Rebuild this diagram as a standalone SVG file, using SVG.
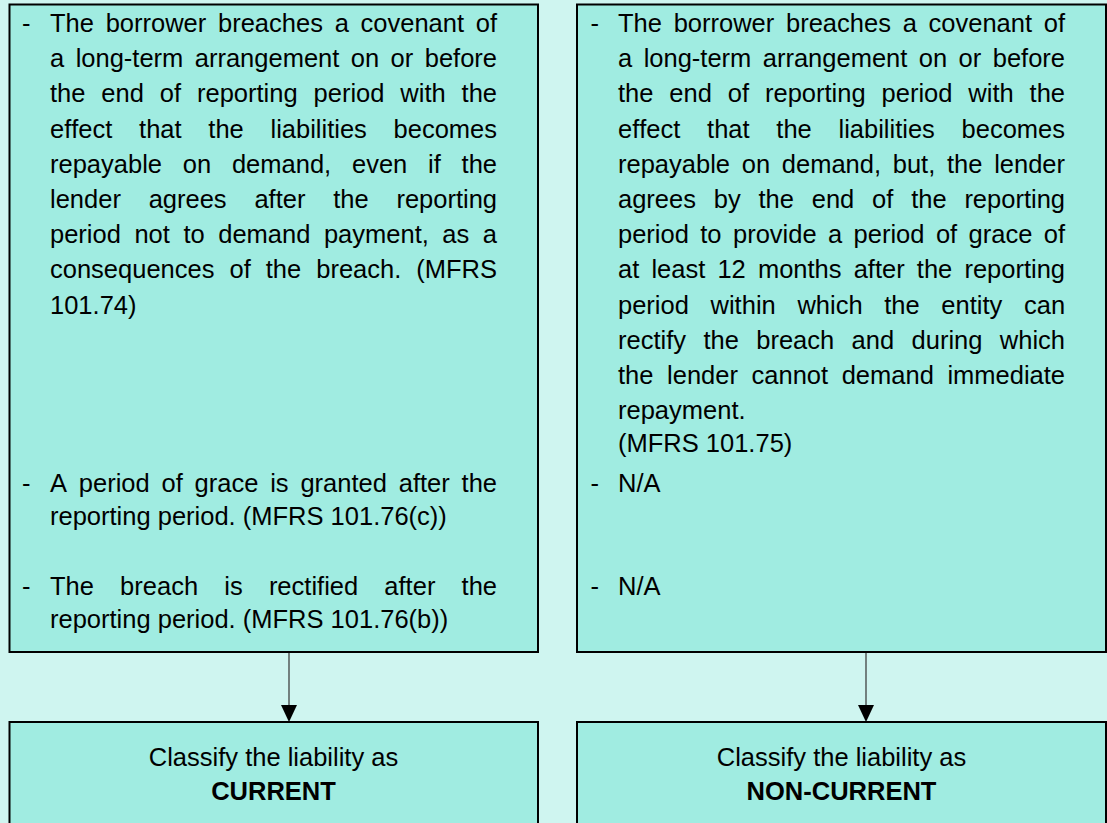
<svg xmlns="http://www.w3.org/2000/svg" width="1107" height="823" viewBox="0 0 1107 823">
<style>
.bg{fill:#cff5f0}
.box{fill:#a0ece1;stroke:#000;stroke-width:2}
text{font-family:"Liberation Sans",Arial,sans-serif;font-size:25.5px;fill:#000;font-kerning:none}
.c{text-anchor:middle}
.b{font-weight:bold}
.conn{stroke:#333;stroke-width:1.2;fill:none}
</style>
<defs>
<marker id="ah" markerWidth="16" markerHeight="17" refX="8" refY="17" orient="auto" markerUnits="userSpaceOnUse" viewBox="0 0 16 17">
<path d="M0,0 L16,0 L8,17 Z" fill="#000"/>
</marker>
</defs>
<rect class="bg" x="0" y="0" width="1107" height="823"/>

<g id="connectors">
<line class="conn" x1="289" y1="652" x2="289" y2="705"/>
<path d="M281,705 L297,705 L289,722 Z" fill="#000"/>
<line class="conn" x1="866" y1="652" x2="866" y2="705"/>
<path d="M858,705 L874,705 L866,722 Z" fill="#000"/>
</g>

<g id="left-conditions">
<rect class="box" x="9.5" y="4.5" width="528.5" height="647.5"/>
<text x="22" y="32">-</text>
<text x="50" y="32" word-spacing="4.64">The borrower breaches a covenant of</text>
<text x="50" y="67.2" word-spacing="4.36">a long-term arrangement on or before</text>
<text x="50" y="102.4" word-spacing="8.82">the end of reporting period with the</text>
<text x="50" y="137.6" word-spacing="19.62">effect that the liabilities becomes</text>
<text x="50" y="172.8" word-spacing="13.70">repayable on demand, even if the</text>
<text x="50" y="208" word-spacing="20.68">lender agrees after the reporting</text>
<text x="50" y="243.2" word-spacing="6.46">period not to demand payment, as a</text>
<text x="50" y="278.4" word-spacing="7.93">consequences of the breach. (MFRS</text>
<text x="50" y="313.6">101.74)</text>
<text x="22" y="491.5">-</text>
<text x="50" y="491.5" word-spacing="4.73">A period of grace is granted after the</text>
<text x="50" y="524.5">reporting period. (MFRS 101.76(c))</text>
<text x="22" y="595">-</text>
<text x="50" y="595" word-spacing="19.10">The breach is rectified after the</text>
<text x="50" y="628">reporting period. (MFRS 101.76(b))</text>
</g>

<g id="right-conditions">
<rect class="box" x="577" y="4.5" width="529" height="647.5"/>
<text x="590.5" y="32">-</text>
<text x="618" y="32" word-spacing="4.64">The borrower breaches a covenant of</text>
<text x="618" y="67.2" word-spacing="4.36">a long-term arrangement on or before</text>
<text x="618" y="102.4" word-spacing="8.82">the end of reporting period with the</text>
<text x="618" y="137.6" word-spacing="19.62">effect that the liabilities becomes</text>
<text x="618" y="172.8" word-spacing="4.63">repayable on demand, but, the lender</text>
<text x="618" y="208" word-spacing="10.71">agrees by the end of the reporting</text>
<text x="618" y="243.2" word-spacing="4.32">period to provide a period of grace of</text>
<text x="618" y="278.4" word-spacing="5.05">at least 12 months after the reporting</text>
<text x="618" y="313.6" word-spacing="14.57">period within which the entity can</text>
<text x="618" y="348.8" word-spacing="10.31">rectify the breach and during which</text>
<text x="618" y="384" word-spacing="6.51">the lender cannot demand immediate</text>
<text x="618" y="419.2">repayment.</text>
<text x="618" y="452">(MFRS 101.75)</text>
<text x="590.5" y="491.5">-</text>
<text x="618" y="491.5">N/A</text>
<text x="590.5" y="595">-</text>
<text x="618" y="595">N/A</text>
</g>

<g id="current">
<rect class="box" x="9.5" y="722" width="528.5" height="110"/>
<text class="c" x="273.5" y="765.5">Classify the liability as</text>
<text class="c b" x="273.5" y="800">CURRENT</text>
</g>

<g id="non-current">
<rect class="box" x="577" y="722" width="529" height="110"/>
<text class="c" x="841.5" y="765.5">Classify the liability as</text>
<text class="c b" x="841.5" y="800">NON-CURRENT</text>
</g>
</svg>
